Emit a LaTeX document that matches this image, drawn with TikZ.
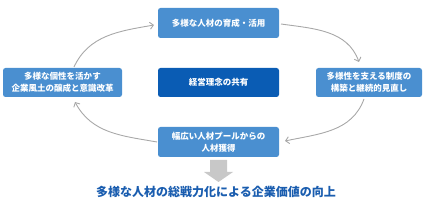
\documentclass[tikz,border=0pt]{standalone}
\usepackage{fontspec}
\newfontfamily\jp{Noto Sans CJK JP}
\usetikzlibrary{arrows.meta}
\definecolor{boxblue}{HTML}{4A8FD0}
\definecolor{darkblue}{HTML}{0A5CB4}
\definecolor{titleblue}{HTML}{1A5DAF}
\definecolor{arrowgray}{HTML}{A8A8A8}
\definecolor{bigarrow}{HTML}{C8C8C8}
\begin{document}
\begin{tikzpicture}[x=1pt,y=1pt,
  box/.style={fill=boxblue, rounded corners=2.5pt, text=white, align=center,
    font=\jp\bfseries\fontsize{8.5}{12}\selectfont, inner sep=0pt},
  cyc/.style={draw=arrowgray, line width=0.9pt, -{Straight Barb[length=3.5pt,width=7pt]}}]
\useasboundingbox (0,0) rectangle (438,200);
\node[box, minimum width=121, minimum height=30] (top) at (218.5,177) {多様な人材の育成・活用};
\node[box, minimum width=119, minimum height=29] (left) at (62.5,117.5) {多様な個性を活かす\\企業風土の醸成と意識改革};
\node[box, fill=darkblue, minimum width=121, minimum height=29] (center) at (218.5,117.5) {経営理念の共有};
\node[box, minimum width=106, minimum height=29] (right) at (369,117.5) {多様性を支える制度の\\構築と継続的見直し};
\node[box, minimum width=121, minimum height=30] (bottom) at (218.5,58) {幅広い人材プールからの\\人材獲得};
\node[font=\jp\bfseries\fontsize{12}{14}\selectfont, text=titleblue, inner sep=0pt] (goal) at (216,8) {多様な人材の総戦力化による企業価値の向上};
\coordinate (a1s) at (74,133);
\coordinate (a1e) at (154,175);
\coordinate (a2s) at (281,176);
\coordinate (a2e) at (359,138);
\coordinate (a3s) at (364,101);
\coordinate (a3e) at (285,59);
\coordinate (a4s) at (157,58);
\coordinate (a4e) at (75,98);
\draw[cyc] (a1s) to[out=65,in=190] (a1e);
\draw[cyc] (a2s) to[out=-8,in=110] (a2e);
\draw[cyc] (a3s) to[out=-110,in=12] (a3e);
\draw[cyc] (a4s) to[out=170,in=-62] (a4e);
\fill[bigarrow] (210,40) -- (227,40) -- (227,28) -- (233,28) -- (218.5,18) -- (204,28) -- (210,28) -- cycle;
\end{tikzpicture}
\end{document}
